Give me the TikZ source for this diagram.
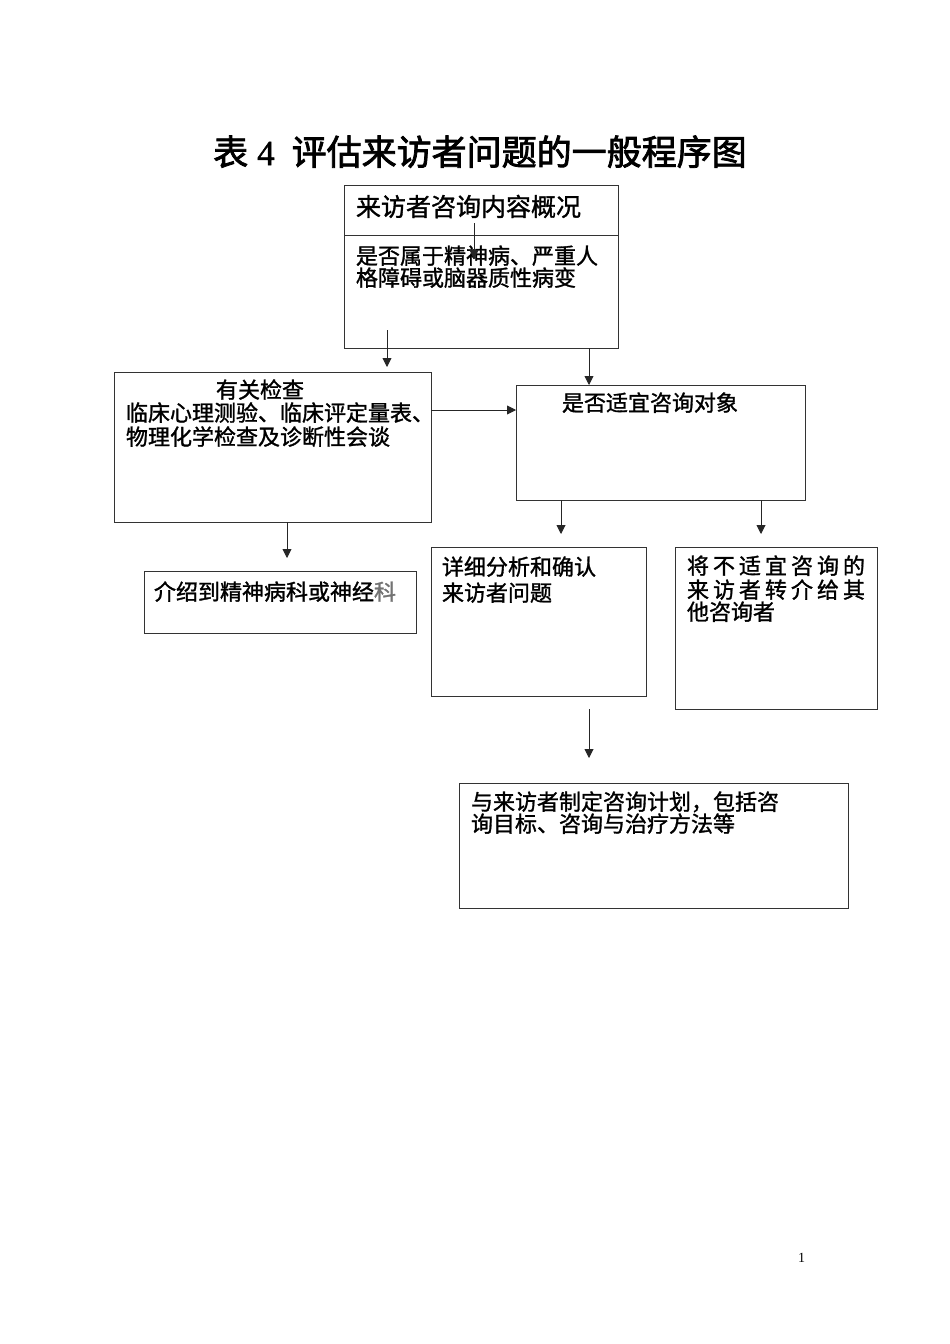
\documentclass[tikz,border=0pt]{standalone}
\usepackage{fontspec}
\newfontfamily\cjk[FakeBold=1.3]{Noto Sans CJK SC}
\newfontfamily\cjkt[FakeBold=2.2]{Noto Sans CJK SC}
\newfontfamily\tnr{Liberation Serif}
\newfontfamily\tnrb[FakeBold=1.5]{Liberation Serif}
\usetikzlibrary{arrows.meta,calc}
\begin{document}
\begin{tikzpicture}[x=1pt,y=-1pt,
  box/.style={draw=black!80,line width=0.9pt,anchor=north west,inner sep=0pt,outer sep=0pt},
  txt/.style={anchor=base west,inner sep=0pt,outer sep=0pt,font=\cjk\fontsize{22}{23}\selectfont},
  arr/.style={draw=black!85,line width=0.9pt,-{Triangle[length=9pt,width=9pt]}}]
\fill[white] (0,0) rectangle (950,1344);
\useasboundingbox (0,0) rectangle (950,1344);

% title
\node[anchor=base west,inner sep=0pt] (title) at (213,165)
  {\fontsize{35}{36}\selectfont{\cjkt 表}\hspace{9pt}{\tnrb 4}\hspace{17pt}{\cjkt 评估来访者问题的一般程序图}};

% boxes
\node[box,minimum width=274pt,minimum height=163pt] (b1) at (344,185) {};
\draw[draw=black!80,line width=0.9pt] (b1.north west) ++(0,50) -- ++(274,0);
\node[box,minimum width=317pt,minimum height=150pt] (b2) at (114,372) {};
\node[box,minimum width=289pt,minimum height=115pt] (b3) at (516,385) {};
\node[box,minimum width=272pt,minimum height=62pt] (b4) at (144,571) {};
\node[box,minimum width=215pt,minimum height=149pt] (b5) at (431,547) {};
\node[box,minimum width=202pt,minimum height=162pt] (b6) at (675,547) {};
\node[box,minimum width=389pt,minimum height=125pt] (b7) at (459,783) {};

% texts
\node[txt,font=\cjk\fontsize{25}{26}\selectfont] (t1a) at (356,216) {来访者咨询内容概况};
\node[txt] (t1b) at (356,264) {是否属于精神病、严重人};
\node[txt] (t1c) at (356,286) {格障碍或脑器质性病变};

\node[txt] (t2a) at (216,398) {有关检查};
\node[txt] (t2b) at (126,421) {临床心理测验、临床评定量表、};
\node[txt] (t2c) at (126,445) {物理化学检查及诊断性会谈};

\node[txt] (t3) at (562,411) {是否适宜咨询对象};

\node[txt] (t4) at (154,600) {介绍到精神病科或神经{\color{black!55}科}};

\node[txt] (t5a) at (442,575) {详细分析和确认};
\node[txt] (t5b) at (442,601) {来访者问题};

\node[txt] (t6a) at (687,574) {\makebox[178pt][s]{将\hfill 不\hfill 适\hfill 宜\hfill 咨\hfill 询\hfill 的}};
\node[txt] (t6b) at (687,598) {\makebox[178pt][s]{来\hfill 访\hfill 者\hfill 转\hfill 介\hfill 给\hfill 其}};
\node[txt] (t6c) at (687,620) {他咨询者};

\node[txt] (t7a) at (471,810) {与来访者制定咨询计划，包括咨};
\node[txt] (t7b) at (471,832) {询目标、咨询与治疗方法等};

\node[anchor=base west,inner sep=0pt,font=\tnr\fontsize{14}{15}\selectfont] (pg) at (798,1262) {1};

% free ends
\coordinate (c1s) at (474,223);
\coordinate (c1e) at (474,259);
\coordinate (c2s) at (387,330);
\coordinate (c2e) at (387,367);
\coordinate (c8s) at (589,709);
\coordinate (c8e) at (589,758);

% connectors
\draw[arr] (c1s) -- (c1e);
\draw[arr] (c2s) -- (c2e);
\draw[arr] ($(b1.south west)+(245,0)$) -- ($(b3.north west)+(73,0)$);
\draw[arr] ($(b2.north east)+(0,38)$) -- ($(b3.north west)+(0,25)$);
\draw[arr] ($(b2.south west)+(173,0)$) -- ($(b4.north west)+(143,-13)$);
\draw[arr] ($(b3.south west)+(45,0)$) -- ($(b5.north west)+(130,-13)$);
\draw[arr] ($(b3.south west)+(245,0)$) -- ($(b6.north west)+(86,-13)$);
\draw[arr] (c8s) -- (c8e);
\end{tikzpicture}
\end{document}
